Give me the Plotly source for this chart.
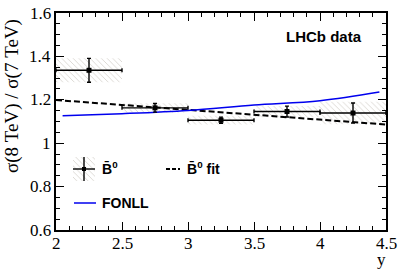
import plotly.graph_objects as go

# ---- data ----
bin_centers = [2.25, 2.75, 3.25, 3.75, 4.25]
bin_halfwidth = [0.25, 0.25, 0.25, 0.25, 0.25]
ratio = [1.336, 1.163, 1.106, 1.146, 1.139]
stat_err = [0.055, 0.020, 0.014, 0.025, 0.046]
syst_err = [0.055, 0.021, 0.020, 0.026, 0.052]

fit_y = [2.0, 4.5]
fit_ratio = [1.199, 1.086]

fonll_y = [2.05, 2.5, 3.0, 3.5, 4.0, 4.45]
fonll_ratio = [1.126, 1.136, 1.151, 1.176, 1.196, 1.236]

x_tickvals = [2, 2.5, 3, 3.5, 4, 4.5]
x_ticktext = ["2", "2.5", "3", "3.5", "4", "4.5"]
y_tickvals = [0.6, 0.8, 1.0, 1.2, 1.4, 1.6]
y_ticktext = ["0.6", "0.8", "1", "1.2", "1.4", "1.6"]

# ---- layout geometry ----
W, H = 407, 276
L, R, T, B = 56, 21, 13, 46
PW, PH = W - L - R, H - T - B


def px(x):
    return (x - L) / PW


def py(y):
    return (H - B - y) / PH


HATCH = "#b3aba0"
SERIF = "Liberation Serif"
SANS = "Liberation Sans"

fig = go.Figure()

# systematic hatched boxes
fig.add_trace(go.Bar(
    x=bin_centers,
    y=[2 * s for s in syst_err],
    base=[r - s for r, s in zip(ratio, syst_err)],
    width=[2 * w for w in bin_halfwidth],
    marker=dict(color="rgba(0,0,0,0)", line=dict(width=0),
                pattern=dict(shape="\\", fgcolor=HATCH, bgcolor="rgba(0,0,0,0)",
                             size=4, solidity=0.22)),
    showlegend=False, hoverinfo="skip",
))

# fit line
fig.add_trace(go.Scatter(
    x=fit_y, y=fit_ratio, mode="lines",
    line=dict(color="black", width=2, dash="6px,3px"),
    showlegend=False,
))

# FONLL
fig.add_trace(go.Scatter(
    x=fonll_y, y=fonll_ratio, mode="lines",
    line=dict(color="#0000ee", width=1.5, shape="spline"),
    showlegend=False,
))

# data points
fig.add_trace(go.Scatter(
    x=bin_centers, y=ratio, mode="markers",
    marker=dict(symbol="square", size=5, color="black"),
    error_x=dict(type="data", array=bin_halfwidth, color="black", thickness=1.4, width=2),
    error_y=dict(type="data", array=stat_err, color="black", thickness=1.4, width=2),
    showlegend=False,
))

# ---- legend samples on overlay axes (0..1 = plot area) ----
lx0, lx1, ly0, ly1 = px(73), px(95), py(181), py(157)
fig.add_trace(go.Scatter(
    x=[lx0, lx1, lx1, lx0, lx0], y=[ly0, ly0, ly1, ly1, ly0],
    fill="toself", mode="none", fillcolor="rgba(0,0,0,0)",
    fillpattern=dict(shape="\\", fgcolor=HATCH, bgcolor="rgba(0,0,0,0)", size=4, solidity=0.22),
    xaxis="x2", yaxis="y2", showlegend=False, hoverinfo="skip",
))
fig.add_trace(go.Scatter(
    x=[(lx0 + lx1) / 2], y=[(ly0 + ly1) / 2], mode="markers",
    marker=dict(symbol="square", size=4, color="black"),
    error_x=dict(type="constant", value=(lx1 - lx0) / 2, color="black", thickness=1.4, width=0),
    error_y=dict(type="constant", value=(ly1 - ly0) / 2, color="black", thickness=1.4, width=0),
    xaxis="x2", yaxis="y2", showlegend=False, hoverinfo="skip",
))
fig.add_trace(go.Scatter(
    x=[px(166), px(180)], y=[py(169), py(169)], mode="lines",
    line=dict(color="black", width=2, dash="4px,2px"),
    xaxis="x2", yaxis="y2", showlegend=False, hoverinfo="skip",
))
fig.add_trace(go.Scatter(
    x=[px(74), px(96)], y=[py(203), py(203)], mode="lines",
    line=dict(color="#0000ee", width=1.5),
    xaxis="x2", yaxis="y2", showlegend=False, hoverinfo="skip",
))

axis_common = dict(
    showline=True, linecolor="black", linewidth=1.5, mirror="ticks",
    ticks="inside", ticklen=8, tickwidth=1, tickcolor="black",
    showgrid=False, zeroline=False, showticklabels=False,
)

fig.update_layout(
    width=W, height=H,
    margin=dict(l=L, r=R, t=T, b=B),
    paper_bgcolor="white", plot_bgcolor="white",
    barmode="overlay",
    xaxis=dict(range=[2, 4.5], tickvals=x_tickvals,
               minor=dict(dtick=0.1, ticklen=4, ticks="inside", tickcolor="black"),
               **axis_common),
    yaxis=dict(range=[0.6, 1.6], tickvals=y_tickvals,
               minor=dict(dtick=0.05, ticklen=4, ticks="inside", tickcolor="black"),
               **axis_common),
    xaxis2=dict(range=[0, 1], overlaying="x", visible=False, fixedrange=True),
    yaxis2=dict(range=[0, 1], overlaying="y", visible=False, fixedrange=True),
    showlegend=False,
)

tickfont = dict(family=SERIF, size=17, color="black")
for v, t in zip(x_tickvals, x_ticktext):
    fig.add_annotation(xref="x", yref="paper", x=v, y=py(243), text=t, showarrow=False,
                       xanchor="center", yanchor="middle", font=tickfont)
for v, t in zip(y_tickvals, y_ticktext):
    fig.add_annotation(xref="paper", yref="y", x=px(53), y=v, text=t, showarrow=False,
                       xanchor="right", yanchor="middle", font=tickfont)

ann = [
    dict(text="σ(8 TeV) / σ(7 TeV)", x=px(12), y=py(96), textangle=-90,
         font=dict(family=SERIF, size=19, color="black")),
    dict(text="y", x=px(381), y=py(259),
         font=dict(family=SERIF, size=17, color="black")),
    dict(text="<b>LHCb data</b>", x=px(324), y=py(36),
         font=dict(family=SANS, size=15, color="black")),
    dict(text="<b>B̄<sup>0</sup></b>", x=px(100), y=py(168), xanchor="left",
         font=dict(family=SANS, size=14, color="black")),
    dict(text="<b>B̄<sup>0</sup> fit</b>", x=px(185), y=py(168), xanchor="left",
         font=dict(family=SANS, size=14, color="black")),
    dict(text="<b>FONLL</b>", x=px(100), y=py(203), xanchor="left",
         font=dict(family=SANS, size=14, color="black")),
]
for a in ann:
    a.setdefault("xanchor", "center")
    fig.add_annotation(xref="paper", yref="paper", showarrow=False, yanchor="middle", **a)

fig.write_html("out.html",
               config={"displayModeBar": False},
               post_script="document.body.style.margin='0';document.body.style.overflow='hidden';")
